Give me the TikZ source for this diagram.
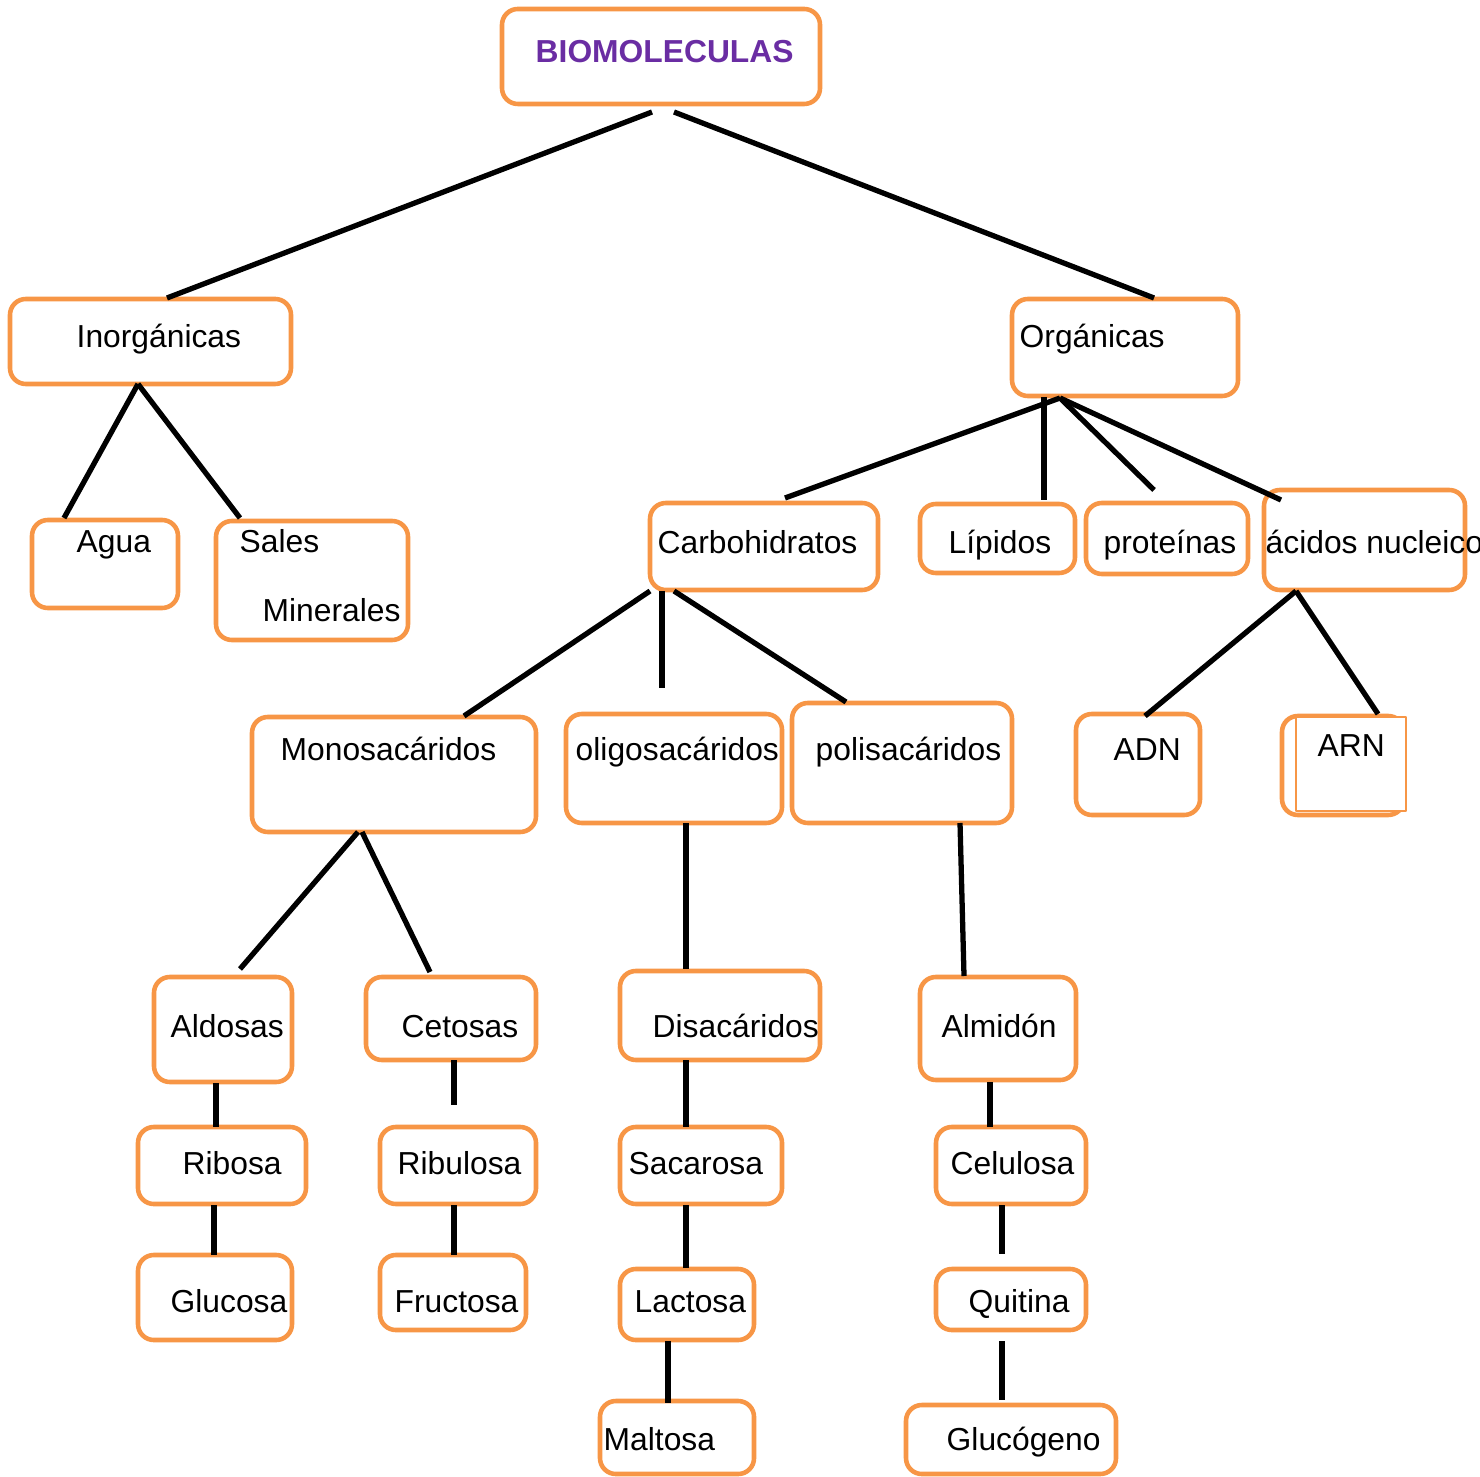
\documentclass[tikz,border=0pt]{standalone}
\usepackage{fontspec}
\setmainfont{Liberation Sans}
\usetikzlibrary{fit}

\definecolor{boxorange}{HTML}{F79646}
\definecolor{titlepurple}{HTML}{6A2DA3}

\tikzset{
  box/.style={draw=boxorange,line width=1.3pt,rounded corners=4.5pt,inner sep=0pt},
  txt/.style={anchor=base west,inner sep=0pt,font=\fontsize{9.04}{11}\selectfont},
  link/.style={line width=1.5pt}
}

\begin{document}
\begin{tikzpicture}[x=0.01cm,y=-0.01cm,line cap=butt,line join=round]
\useasboundingbox (0,0) rectangle (1480,1477);

% boxes
\node[box,fit={(502,9)(820,104)}] (bio) {};
\node[box,fit={(10,299)(291,384)}] (inorg) {};
\node[box,fit={(1012,299)(1238,396)}] (org) {};
\node[box,fit={(32,520)(178,608)}] (agua) {};
\node[box,fit={(216,521)(408,640)}] (sales) {};
\node[box,fit={(650,503)(878,590)}] (carbo) {};
\node[box,fit={(920,504)(1075,573)}] (lipidos) {};
\node[box,fit={(1086,503)(1248,574)}] (prot) {};
\node[box,fit={(1264,490)(1465,590)}] (acidos) {};
\node[box,fit={(252,717)(536,832)}] (mono) {};
\node[box,fit={(566,714)(782,823)}] (oligo) {};
\node[box,fit={(792,703)(1012,823)}] (poli) {};
\node[box,fit={(1076,714)(1200,815)}] (adn) {};
\node[box,fit={(1282,716)(1404,815)}] (arn) {};
\node[draw=boxorange,line width=0.45pt,inner sep=0pt,fill=white,fit={(1296,717)(1406,811)}] (arnin) {};
\node[box,fit={(154,977)(292,1082)}] (aldosas) {};
\node[box,fit={(366,977)(536,1060)}] (cetosas) {};
\node[box,fit={(620,971)(820,1060)}] (disac) {};
\node[box,fit={(920,977)(1076,1080)}] (almidon) {};
\node[box,fit={(138,1127)(306,1204)}] (ribosa) {};
\node[box,fit={(380,1127)(536,1204)}] (ribulosa) {};
\node[box,fit={(620,1127)(782,1204)}] (sacarosa) {};
\node[box,fit={(936,1127)(1086,1204)}] (celulosa) {};
\node[box,fit={(138,1255)(292,1340)}] (glucosa) {};
\node[box,fit={(380,1255)(526,1330)}] (fructosa) {};
\node[box,fit={(620,1269)(754,1340)}] (lactosa) {};
\node[box,fit={(936,1269)(1086,1330)}] (quitina) {};
\node[box,fit={(600,1401)(754,1474)}] (maltosa) {};
\node[box,fit={(906,1405)(1116,1474)}] (glucogeno) {};

% texts
\node[txt,font=\fontsize{9.04}{11}\selectfont\bfseries,text=titlepurple] (tbio) at (535,63) {BIOMOLECULAS};
\node[txt] (tinorg) at (76,348) {Inorgánicas};
\node[txt] (torg) at (1019,348) {Orgánicas};
\node[txt] (tagua) at (76,553) {Agua};
\node[txt] (tsales) at (239,553) {Sales};
\node[txt] (tmin) at (262,622) {Minerales};
\node[txt] (tcarbo) at (657,554) {Carbohidratos};
\node[txt] (tlip) at (948,554) {Lípidos};
\node[txt] (tprot) at (1103,554) {proteínas};
\node[txt] (tacid) at (1265,554) {ácidos nucleico};
\node[txt] (tmono) at (280,760) {Monosacáridos};
\node[txt] (toligo) at (575,760) {oligosacáridos};
\node[txt] (tpoli) at (815,760) {polisacáridos};
\node[txt] (tadn) at (1113,760) {ADN};
\node[txt] (tarn) at (1317,757) {ARN};
\node[txt] (tald) at (170,1037) {Aldosas};
\node[txt] (tcet) at (401,1037) {Cetosas};
\node[txt] (tdis) at (652,1037) {Disacáridos};
\node[txt] (talm) at (941,1037) {Almidón};
\node[txt] (trib) at (182,1174) {Ribosa};
\node[txt] (tribu) at (397,1174) {Ribulosa};
\node[txt] (tsac) at (628,1174) {Sacarosa};
\node[txt] (tcel) at (950,1174) {Celulosa};
\node[txt] (tglu) at (170,1312) {Glucosa};
\node[txt] (tfru) at (394,1312) {Fructosa};
\node[txt] (tlac) at (634,1312) {Lactosa};
\node[txt] (tqui) at (968,1312) {Quitina};
\node[txt] (tmal) at (603,1450) {Maltosa};
\node[txt] (tgluc) at (946,1450) {Glucógeno};

% ends of the lines
\coordinate (bioL) at (652,112);
\coordinate (bioR) at (674,112);
\coordinate (inorgT) at (167,298);
\coordinate (orgT) at (1154,298);
\coordinate (inorgB) at (138,384);
\coordinate (aguaT) at (64,518);
\coordinate (salesT) at (240,518);
\coordinate (orgB) at (1060,398);
\coordinate (orgB2) at (1044,397);
\coordinate (carboT) at (785,498);
\coordinate (lipT) at (1044,500);
\coordinate (protT) at (1154,490);
\coordinate (acidT) at (1281,500);
\coordinate (carboBL) at (650,591);
\coordinate (carboB) at (662,591);
\coordinate (carboBR) at (674,591);
\coordinate (monoT) at (464,716);
\coordinate (oligoT) at (662,688);
\coordinate (poliT) at (846,702);
\coordinate (acidB) at (1296,591);
\coordinate (adnT) at (1145,716);
\coordinate (arnT) at (1378,714);
\coordinate (monoBL) at (358,832);
\coordinate (monoBR) at (362,832);
\coordinate (aldT) at (240,969);
\coordinate (cetT) at (430,972);
\coordinate (oligoB) at (686,823);
\coordinate (disT) at (686,969);
\coordinate (poliB) at (960,823);
\coordinate (almT) at (964,976);

% lines
\draw[link] (bioL) -- (inorgT);
\draw[link] (bioR) -- (orgT);
\draw[link] (inorgB) -- (aguaT);
\draw[link] (inorgB) -- (salesT);
\draw[link] (orgB) -- (carboT);
\draw[link] (orgB2) -- (lipT);
\draw[link] (orgB) -- (protT);
\draw[link] (orgB) -- (acidT);
\draw[link] (carboBL) -- (monoT);
\draw[link] (carboB) -- (oligoT);
\draw[link] (carboBR) -- (poliT);
\draw[link] (acidB) -- (adnT);
\draw[link] (acidB) -- (arnT);
\draw[link] (monoBL) -- (aldT);
\draw[link] (monoBR) -- (cetT);
\draw[link] (oligoB) -- (disT);
\draw[link] (poliB) -- (almT);

% short vertical links
\draw[link] (216,1083) coordinate (aldB) -- (216,1127) coordinate (ribT);
\draw[link] (454,1060) coordinate (cetB) -- (454,1105) coordinate (cetE);
\draw[link] (214,1205) coordinate (ribB) -- (214,1255) coordinate (gluT);
\draw[link] (454,1205) coordinate (ribuB) -- (454,1255) coordinate (fruT);
\draw[link] (686,1060) coordinate (disB) -- (686,1127) coordinate (sacT);
\draw[link] (686,1205) coordinate (sacB) -- (686,1268) coordinate (lacT);
\draw[link] (668,1341) coordinate (lacB) -- (668,1403) coordinate (malT);
\draw[link] (990,1082) coordinate (almB) -- (990,1127) coordinate (celT);
\draw[link] (1002,1205) coordinate (celB) -- (1002,1254) coordinate (quiE);
\draw[link] (1002,1341) coordinate (quiB) -- (1002,1400) coordinate (glucT);
\end{tikzpicture}
\end{document}
